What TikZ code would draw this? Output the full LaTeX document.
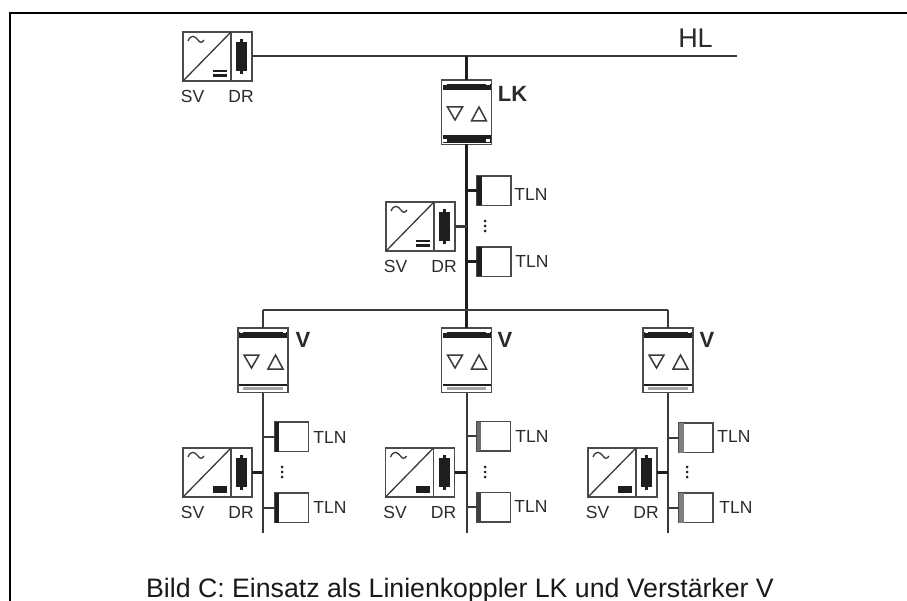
\documentclass[tikz,border=0pt]{standalone}
\usepackage{fontspec}
\setmainfont{Liberation Sans}
\definecolor{ln}{HTML}{3A3A3A}
\definecolor{bx}{HTML}{4A4A4A}
\definecolor{tx}{HTML}{2A2A2A}
\definecolor{bd}{HTML}{1E1E1E}
\tikzset{
  x=1pt,y=-1pt,
  frameline/.style={line width=2.2pt,black},
  bus/.style={line width=2pt,ln},
  busthick/.style={line width=2.8pt,bd},
  boxsq/.style={draw=bx,line width=1.5pt,fill=white,inner sep=0pt,outer sep=0pt},
  lab/.style={font=\fontsize{17.5}{18}\selectfont,text=tx,inner sep=0pt},
  boldlab/.style={font=\fontsize{22}{22}\selectfont\bfseries,text=tx,inner sep=0pt},
  biglab/.style={font=\fontsize{27}{27}\selectfont,text=tx,inner sep=0pt},
  caption/.style={font=\fontsize{26.7}{27}\selectfont,text=black!90,inner sep=0pt},
  blk/.style={fill=bd,draw=none},
  symb/.style={draw=ln,line width=1.3pt},
}
% name, left x, top y, 1 = double bars else single block
\newcommand{\psuunit}[4]{%
  \node[boxsq,minimum width=48pt,minimum height=49pt] (#1sv) at (#2+24,#3+24.5) {};
  \node[boxsq,minimum width=21pt,minimum height=49pt] (#1dr) at (#2+58.5,#3+24.5) {};
  \draw[symb] (#1sv.south west) -- (#1sv.north east);
  \begin{scope}[shift={(#2,#3)}]
    \draw[symb] (5,9) .. controls (8,2) and (12,4) .. (15,8) .. controls (17,11) and (19,11) .. (21,8);
    \ifnum#4=1
      \fill[blk] (30,38) rectangle (44,40.5);
      \fill[blk] (30,42.5) rectangle (44,45);
    \else
      \fill[blk] (30,38) rectangle (44,45);
    \fi
    \fill[blk] (53,10) rectangle (64,39);
    \fill[blk] (57,7) rectangle (60,42);
  \end{scope}
  \node[lab] (#1svl) at (#2+9.5,#3+64) {SV};
  \node[lab] (#1drl) at (#2+58,#3+64) {DR};
}
% name, left x, top y, band colour
\newcommand{\tlnunit}[4]{%
  \node[boxsq,minimum width=34pt,minimum height=29.5pt] (#1) at (#2+17,#3+14.75) {};
  \fill[#4] (#2,#3) rectangle (#2+4.5,#3+29.5);
}
% name, left x, top y, type (1 = LK bottom, 0 = V bottom)
\newcommand{\coupler}[4]{%
  \node[boxsq,line width=1.8pt,minimum width=50pt,minimum height=64.5pt] (#1) at (#2+25,#3+32.25) {};
  \begin{scope}[shift={(#2,#3)}]
    \fill[blk] (1,4) rectangle (49,10);
    \fill[blk] (1,55.5) rectangle (49,58);
    \ifnum#4=1
      \fill[blk] (1,56) rectangle (49,63);
    \else
      \fill[gray!70] (4,59) rectangle (46,62);
    \fi
    \foreach \cx in {3.5,46.5}{
      \fill[white] (\cx-1.6,2.2) rectangle (\cx+1.6,5.4);
      \fill[white] (\cx-1.6,59) rectangle (\cx+1.6,62.2);
    }
    \draw[symb,line width=1.5pt,line join=miter] (6,27) -- (21,27) -- (13.5,40) -- cycle;
    \draw[symb,line width=1.5pt,line join=miter] (30,41) -- (45,41) -- (37.5,27) -- cycle;
  \end{scope}
}
\newcommand{\tlndots}[2]{%
  \foreach \dy in {-5,0,5} \fill[bd] (#1,#2+\dy) circle (1.5pt);
}
\begin{document}
\begin{tikzpicture}
\useasboundingbox (0,0) rectangle (907,601);
% frame
\coordinate (fa) at (10,601);
\coordinate (fb) at (10,13);
\coordinate (fc) at (907,13);
\draw[frameline] (fa) -- (fb) -- (fc);

% --- top ---
\psuunit{a}{183}{32}{1}
\coordinate (hlend) at (737,56);
\draw[bus] (adr.east) -- (adr.east -| hlend);
\node[biglab] (hl) at (695.5,38.5) {HL};

% --- Linienkoppler ---
\coupler{lk}{441.5}{80}{1}
\coordinate (lktop) at (lk.north |- hlend);
\draw[busthick] (lktop) -- (lk.north);
\node[boldlab] (lkl) at (512.5,94) {LK};

% line section
\psuunit{b}{386}{202}{1}
\tlnunit{t1}{477}{176}{bd}
\tlnunit{t2}{477}{247}{bd}
\node[lab] (t1l) at (531,194) {TLN};
\node[lab] (t2l) at (532,261) {TLN};
\tlndots{485}{226}

% --- Verstaerker ---
\coupler{v1}{238}{328}{0}
\coupler{v2}{441.5}{328}{0}
\coupler{v3}{643}{328}{0}
\node[boldlab] (v1l) at (303,340) {V};
\node[boldlab] (v2l) at (505,340) {V};
\node[boldlab] (v3l) at (707,340) {V};

\draw[busthick] (lk.south) -- (v2.north);
\coordinate (brl) at (v1.north |- 0,310);
\coordinate (brr) at (v3.north |- 0,310);
\draw[bus] (brl) -- (brr);
\draw[bus] (brl) -- (v1.north);
\draw[bus] (brr) -- (v3.north);
\draw[bus,line width=2.2pt] (bdr.east) -- (bdr.east -| lk.south);
\draw[busthick] (t1.west) -- (t1.west -| lk.south);
\draw[busthick] (t2.west) -- (t2.west -| lk.south);

% branch 1
\psuunit{c}{183}{448}{0}
\tlnunit{c1}{274.5}{422}{bd}
\tlnunit{c2}{274.5}{493}{bd}
\node[lab] (c1l) at (330,437) {TLN};
\node[lab] (c2l) at (330,507) {TLN};
\tlndots{282}{472}
% branch 2
\psuunit{d}{385.5}{448}{0}
\tlnunit{d1}{476.5}{421.5}{bd!65}
\tlnunit{d2}{476.5}{492.5}{bd!85}
\node[lab] (d1l) at (532,436) {TLN};
\node[lab] (d2l) at (531,506) {TLN};
\tlndots{485}{472}
% branch 3
\psuunit{e}{588}{448}{0}
\tlnunit{e1}{679}{423}{gray}
\tlnunit{e2}{679}{493}{gray}
\node[lab] (e1l) at (734,436) {TLN};
\node[lab] (e2l) at (736,507) {TLN};
\tlndots{687}{472}

\coordinate (endc) at (v1.south |- 0,533);
\coordinate (endd) at (v2.south |- 0,533);
\coordinate (ende) at (v3.south |- 0,533);
\foreach \u/\en/\s in {v1/endc/c,v2/endd/d,v3/ende/e}{
  \draw[bus] (\u.south) -- (\en);
  \draw[busthick,line width=3.4pt] (\s dr.east) -- (\s dr.east -| \u.south);
  \draw[bus] (\s 1.west) -- (\s 1.west -| \u.south);
  \draw[bus,line width=2.3pt] (\s 2.west) -- (\s 2.west -| \u.south);
}

\node[caption,anchor=base] (cap) at (460,597) {Bild C: Einsatz als Linienkoppler LK und Verstärker V};
\end{tikzpicture}
\end{document}
